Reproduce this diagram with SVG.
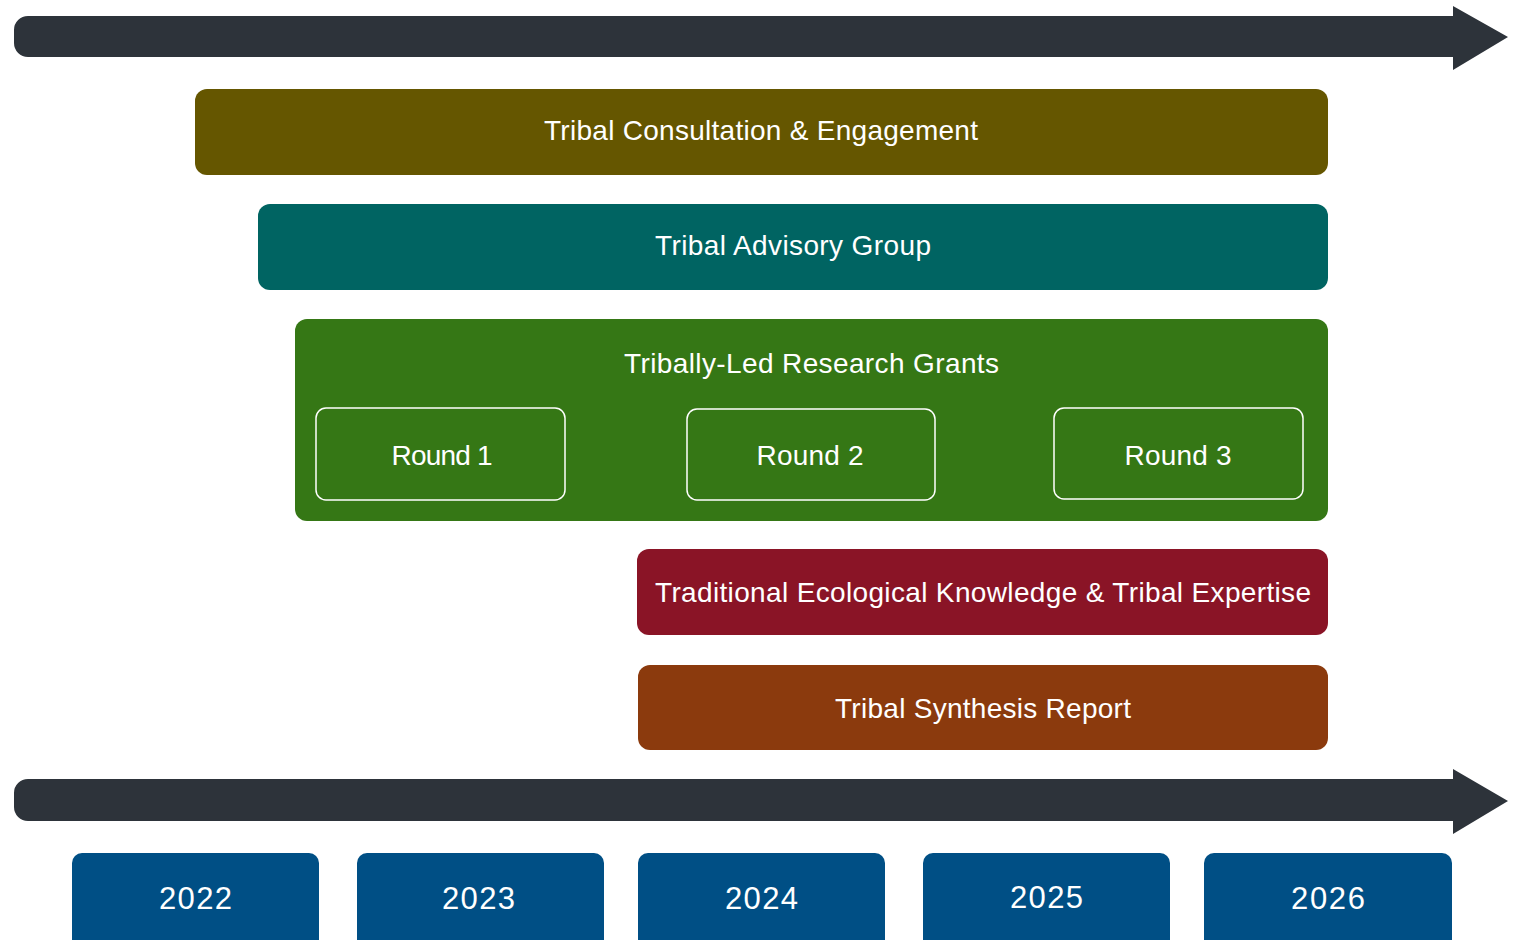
<svg xmlns="http://www.w3.org/2000/svg" width="1524" height="940" viewBox="0 0 1524 940">
<style>
.t{font-family:"Liberation Sans",Arial,sans-serif;font-size:28px;fill:#ffffff;text-anchor:middle}
.y{font-family:"Liberation Sans",Arial,sans-serif;font-size:31px;fill:#ffffff;text-anchor:middle}
.arrow{fill:#2d333a}
.round{fill:none;stroke:#ffffff;stroke-width:1.5}
.year{fill:#004f85}
</style>
<rect x="0" y="0" width="1524" height="940" fill="#ffffff"/>
<g id="connectors">
<path class="arrow" d="M28,16 H1453 V6 L1508,37 L1453,70 V57 H28 A14,14 0 0 1 14,43 V30 A14,14 0 0 1 28,16 Z"/>
<path class="arrow" d="M28,779 H1453 V769 L1508,801 L1453,834 V821 H28 A14,14 0 0 1 14,807 V793 A14,14 0 0 1 28,779 Z"/>
</g>
<g id="consultation">
<rect x="195" y="89" width="1133" height="86" rx="12" fill="#655600"/>
<text class="t" x="761" y="140" textLength="434">Tribal Consultation &amp; Engagement</text>
</g>
<g id="advisory">
<rect x="258" y="204" width="1070" height="86" rx="12" fill="#006462"/>
<text class="t" x="793" y="255" textLength="276">Tribal Advisory Group</text>
</g>
<g id="grants">
<rect x="295" y="319" width="1033" height="202" rx="12" fill="#357715"/>
<text class="t" x="811.5" y="373" textLength="375">Tribally-Led Research Grants</text>
</g>
<g id="round1">
<rect class="round" x="316" y="408" width="249" height="92" rx="10"/>
<text class="t" x="442" y="465" textLength="101">Round 1</text>
</g>
<g id="round2">
<rect class="round" x="687" y="409" width="248" height="91" rx="10"/>
<text class="t" x="810" y="465" textLength="107">Round 2</text>
</g>
<g id="round3">
<rect class="round" x="1054" y="408" width="249" height="91" rx="10"/>
<text class="t" x="1178" y="465" textLength="107">Round 3</text>
</g>
<g id="tek">
<rect x="637" y="549" width="691" height="86" rx="12" fill="#8a1426"/>
<text class="t" x="983" y="602" textLength="656">Traditional Ecological Knowledge &amp; Tribal Expertise</text>
</g>
<g id="synthesis">
<rect x="638" y="665" width="690" height="85" rx="12" fill="#8b3a0d"/>
<text class="t" x="983" y="718" textLength="296">Tribal Synthesis Report</text>
</g>
<g id="y2022">
<rect class="year" x="72" y="853" width="247" height="100" rx="10"/>
<text class="y" x="195.5" y="909" textLength="73">2022</text>
</g>
<g id="y2023">
<rect class="year" x="357" y="853" width="247" height="100" rx="10"/>
<text class="y" x="478.5" y="909" textLength="73">2023</text>
</g>
<g id="y2024">
<rect class="year" x="638" y="853" width="247" height="100" rx="10"/>
<text class="y" x="761.5" y="909" textLength="73">2024</text>
</g>
<g id="y2025">
<rect class="year" x="923" y="853" width="247" height="100" rx="10"/>
<text class="y" x="1046.5" y="908" textLength="73">2025</text>
</g>
<g id="y2026">
<rect class="year" x="1204" y="853" width="248" height="100" rx="10"/>
<text class="y" x="1328" y="909" textLength="74">2026</text>
</g>
</svg>
